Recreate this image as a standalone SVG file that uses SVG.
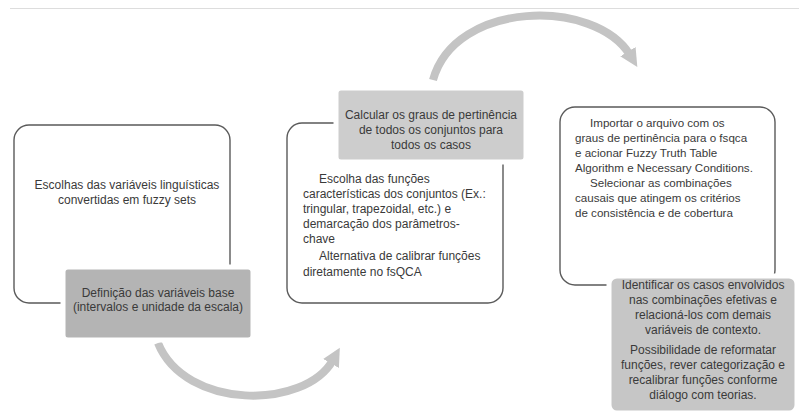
<svg xmlns="http://www.w3.org/2000/svg" width="799" height="415" viewBox="0 0 799 415">
<defs>
<style>
.outer{fill:#ffffff;stroke:#5a5a5a;stroke-width:1.4}
.gray{stroke:#ffffff;stroke-width:5}
text{font-family:"Liberation Sans",Arial,sans-serif;font-size:12px;fill:#3a3a3a}
.c{text-anchor:middle}
.s{font-size:11.6px}
.arc{fill:none;stroke:#c4c4c4;stroke-width:8}
</style>
<marker id="ah" markerUnits="userSpaceOnUse" markerWidth="22" markerHeight="22" refX="4" refY="11" orient="auto">
<path d="M0,2 L18,11 L0,20 Z" fill="#c4c4c4"/>
</marker>
</defs>
<rect width="799" height="415" fill="#ffffff"/>
<line x1="10" y1="8.5" x2="799" y2="8.5" stroke="#dddddd" stroke-width="1"/>

<g id="connectors">
<path class="arc" d="M158,343 C185,410 305,410 333,360" marker-end="url(#ah)"/>
<path class="arc" d="M433,80 C455,0 595,-2 630,55" marker-end="url(#ah)"/>
</g>

<g id="node-escolhas">
<rect class="outer" x="14" y="125" width="216" height="178" rx="15"/>
<text class="c" x="127" y="189">Escolhas das variáveis linguísticas</text>
<text class="c" x="127" y="204">convertidas em fuzzy sets</text>
</g>

<g id="node-definicao">
<rect class="gray" x="63" y="267" width="190" height="73" rx="5" fill="#b4b4b4"/>
<text class="c" x="158" y="297">Definição das variáveis base</text>
<text class="c" x="158" y="311">(intervalos e unidade da escala)</text>
</g>

<g id="node-funcoes">
<rect class="outer" x="287" y="123" width="216" height="180" rx="15"/>
<text x="319" y="183">Escolha das funções</text>
<text x="303" y="198">características dos conjuntos (Ex.:</text>
<text x="303" y="213">tringular, trapezoidal, etc.) e</text>
<text x="303" y="228">demarcação dos parâmetros-</text>
<text x="303" y="243">chave</text>
<text x="319" y="260">Alternativa de calibrar funções</text>
<text x="303" y="276">diretamente no fsQCA</text>
</g>

<g id="node-calcular">
<rect class="gray" x="336" y="88" width="190" height="74" rx="5" fill="#cdcdcd"/>
<text class="c" x="431" y="119">Calcular os graus de pertinência</text>
<text class="c" x="431" y="134">de todos os conjuntos para</text>
<text class="c" x="431" y="149">todos os casos</text>
</g>

<g id="node-importar">
<rect class="outer" x="560" y="107" width="215" height="178" rx="15"/>
<text class="s" x="590" y="127">Importar o arquivo com os</text>
<text class="s" x="575" y="142">graus de pertinência para o fsqca</text>
<text class="s" x="575" y="157">e acionar Fuzzy Truth Table</text>
<text class="s" x="575" y="172">Algorithm e Necessary Conditions.</text>
<text class="s" x="590" y="187">Selecionar as combinações</text>
<text class="s" x="575" y="202">causais que atingem os critérios</text>
<text class="s" x="575" y="217">de consistência e de cobertura</text>
</g>

<g id="node-identificar">
<rect class="gray" x="609" y="276" width="188" height="137" rx="8" fill="#c6c6c6"/>
<text class="c" x="703" y="289">Identificar os casos envolvidos</text>
<text class="c" x="703" y="304">nas combinações efetivas e</text>
<text class="c" x="703" y="319">relacioná-los com demais</text>
<text class="c" x="703" y="334">variáveis de contexto.</text>
<text class="c" x="703" y="354">Possibilidade de reformatar</text>
<text class="c" x="703" y="369">funções, rever categorização e</text>
<text class="c" x="703" y="384">recalibrar funções conforme</text>
<text class="c" x="703" y="399">diálogo com teorias.</text>
</g>
</svg>
